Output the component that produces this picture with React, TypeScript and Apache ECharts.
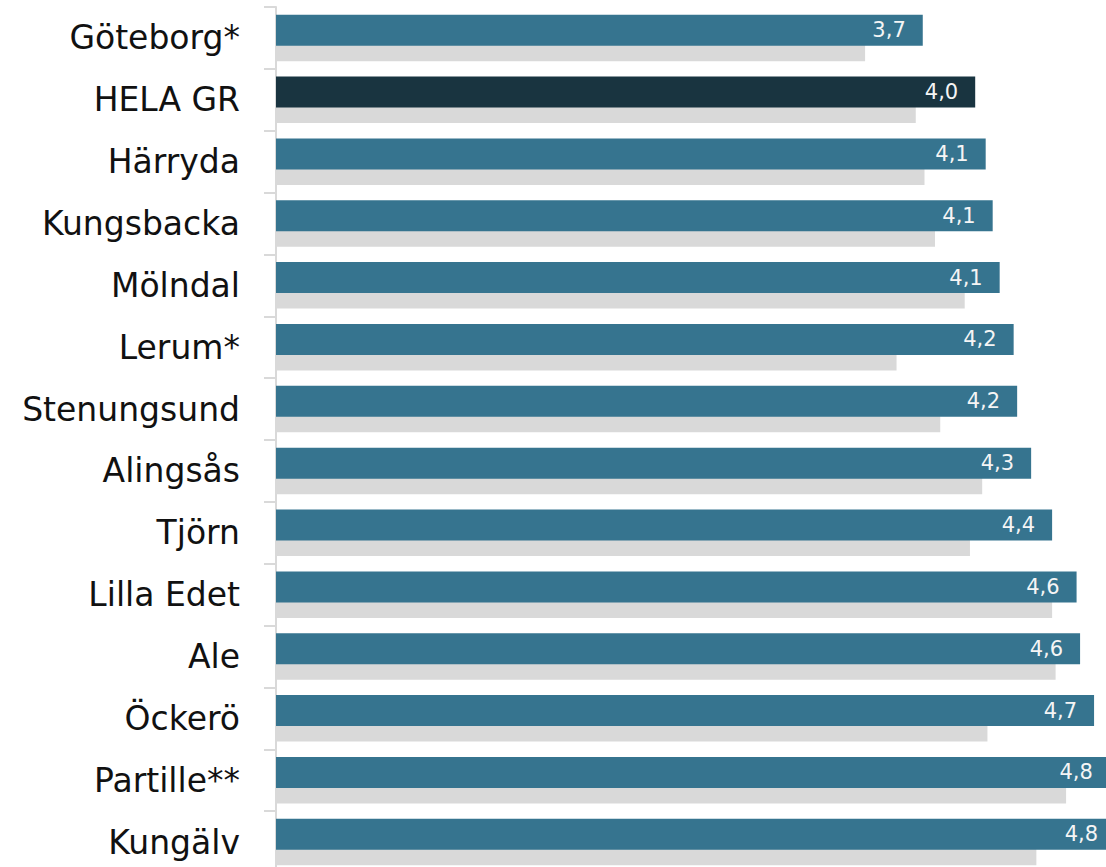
import React, { useEffect, useRef } from "react";
import * as echarts from "echarts";

const categories = [
  "Göteborg*",
  "HELA GR",
  "Härryda",
  "Kungsbacka",
  "Mölndal",
  "Lerum*",
  "Stenungsund",
  "Alingsås",
  "Tjörn",
  "Lilla Edet",
  "Ale",
  "Öckerö",
  "Partille**",
  "Kungälv",
];

const currentValues = [3.7, 4.0, 4.06, 4.1, 4.14, 4.22, 4.24, 4.32, 4.44, 4.58, 4.6, 4.68, 4.77, 4.8];
const previousValues = [3.37, 3.66, 3.71, 3.77, 3.94, 3.55, 3.8, 4.04, 3.97, 4.44, 4.46, 4.07, 4.52, 4.35];

const highlightCategory = "HELA GR";

export default function App() {
  const ref = useRef<HTMLDivElement>(null);

  useEffect(() => {
    if (!ref.current) return;
    const chart = echarts.init(ref.current, undefined, { renderer: "svg" });
    const fmt = (v: number) => v.toFixed(1).replace(".", ",");
    chart.setOption({
      animation: false,
      grid: { left: 276, top: 7, bottom: 0, right: 0, containLabel: false },
      xAxis: {
        type: "value",
        min: 0,
        max: 5,
        show: false,
        splitLine: { show: false },
      },
      yAxis: {
        type: "category",
        data: categories,
        inverse: true,
        axisLine: { show: true, lineStyle: { color: "#d9d9d9", width: 2 } },
        axisTick: { show: true, length: 12, lineStyle: { color: "#d9d9d9", width: 2 } },
        axisLabel: {
          margin: 36,
          fontSize: 33,
          color: "#111111",
          fontFamily: "DejaVu Sans",
        },
      },
      series: [
        {
          type: "bar",
          name: "current",
          z: 3,
          barWidth: 31,
          barGap: "-50%",
          data: currentValues.map((v, i) => ({
            value: v,
            itemStyle: { color: categories[i] === highlightCategory ? "#193440" : "#36748f" },
          })),
          label: {
            show: true,
            position: "insideRight",
            distance: 17,
            color: "#f5f5f5",
            fontSize: 21,
            fontFamily: "DejaVu Sans",
            formatter: (p: any) => fmt(p.value),
          },
        },
        {
          type: "bar",
          name: "previous",
          z: 2,
          barWidth: 31,
          barGap: "-50%",
          itemStyle: { color: "#d9d9d9" },
          data: previousValues,
        },
      ],
    });
    return () => chart.dispose();
  }, []);

  return (
    <div
      style={{
        position: "fixed",
        left: 0,
        top: 0,
        width: 1106,
        height: 867,
        overflow: "hidden",
        background: "#fff",
      }}
    >
      <div ref={ref} style={{ width: 1150, height: 873 }} />
    </div>
  );
}
